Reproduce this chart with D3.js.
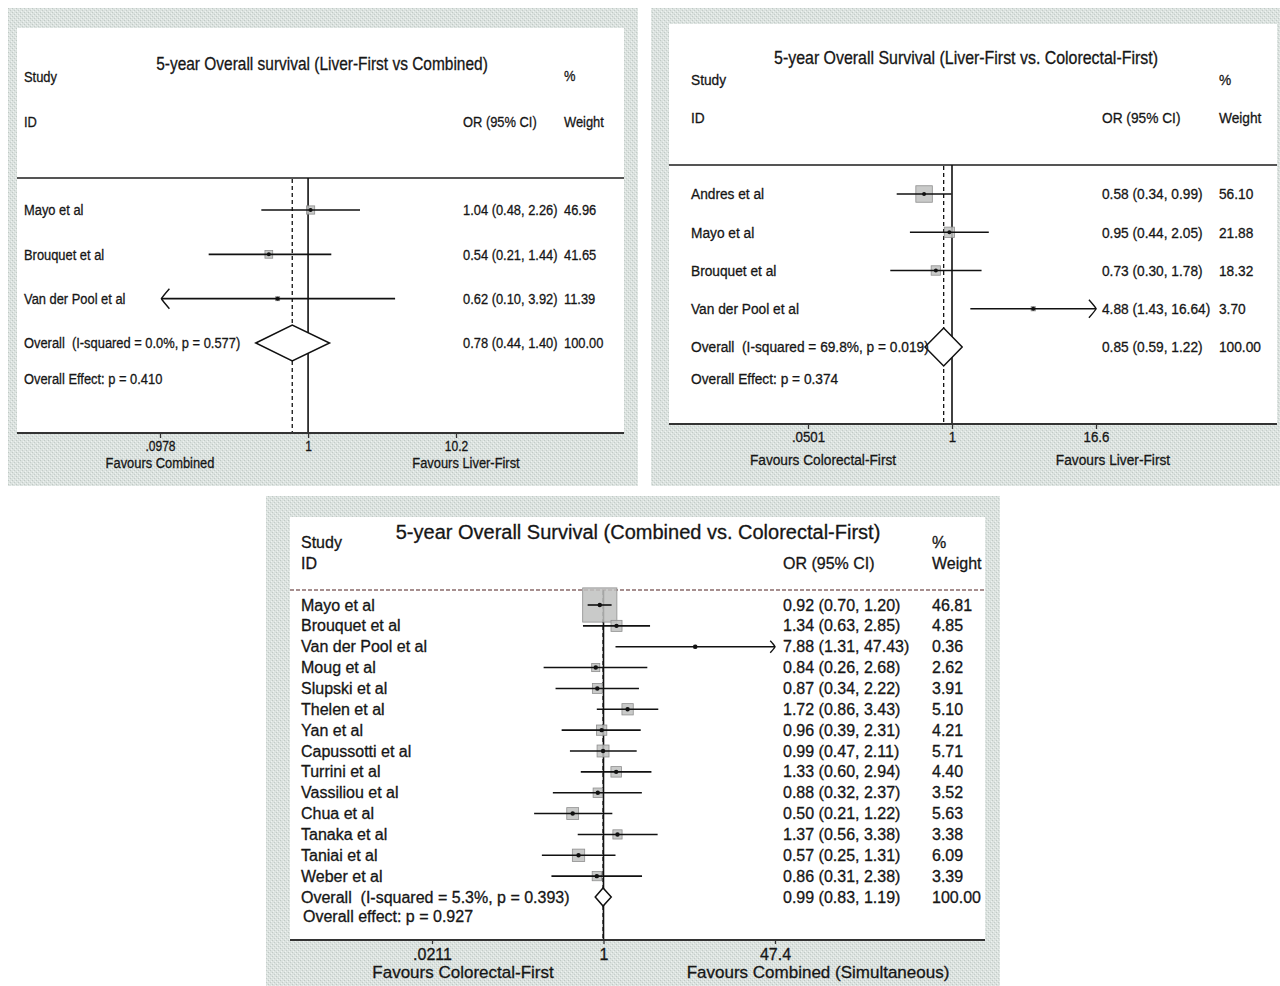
<!DOCTYPE html>
<html><head><meta charset="utf-8">
<script src="https://cdn.jsdelivr.net/npm/d3@7"></script>
<style>html,body{margin:0;padding:0;background:#fff}svg{display:block}text{white-space:pre}</style>
</head><body><svg id="c" width="1280" height="986"></svg>
<script>
// ---------- DATA ----------
const p1Title = "5-year Overall survival (Liver-First vs Combined)";
const p1Studies = ["Mayo et al", "Brouquet et al", "Van der Pool et al"];
const p1OR = [1.04, 0.54, 0.62];
const p1Lo = [0.48, 0.21, 0.10];
const p1Hi = [2.26, 1.44, 3.92];
const p1Weight = [46.96, 41.65, 11.39];
const p1Overall = [0.78, 0.44, 1.40];
const p1Het = "Overall  (I-squared = 0.0%, p = 0.577)";
const p1Effect = "Overall Effect: p = 0.410";
const p1TickValues = [0.0978, 1, 10.2];
const p1TickLabels = [".0978", "1", "10.2"];
const p1Favours = ["Favours Combined", "Favours Liver-First"];

const p2Title = "5-year Overall Survival (Liver-First vs. Colorectal-First)";
const p2Studies = ["Andres et al", "Mayo et al", "Brouquet et al", "Van der Pool et al"];
const p2OR = [0.58, 0.95, 0.73, 4.88];
const p2Lo = [0.34, 0.44, 0.30, 1.43];
const p2Hi = [0.99, 2.05, 1.78, 16.64];
const p2Weight = [56.10, 21.88, 18.32, 3.70];
const p2Overall = [0.85, 0.59, 1.22];
const p2Het = "Overall  (I-squared = 69.8%, p = 0.019)";
const p2Effect = "Overall Effect: p = 0.374";
const p2TickValues = [1 / 16.6, 1, 16.6];
const p2TickLabels = [".0501", "1", "16.6"];
const p2Favours = ["Favours Colorectal-First", "Favours Liver-First"];

const p3Title = "5-year Overall Survival (Combined vs. Colorectal-First)";
const p3Studies = ["Mayo et al", "Brouquet et al", "Van der Pool et al", "Moug et al", "Slupski et al",
  "Thelen et al", "Yan et al", "Capussotti et al", "Turrini et al", "Vassiliou et al", "Chua et al",
  "Tanaka et al", "Taniai et al", "Weber et al"];
const p3OR = [0.92, 1.34, 7.88, 0.84, 0.87, 1.72, 0.96, 0.99, 1.33, 0.88, 0.50, 1.37, 0.57, 0.86];
const p3Lo = [0.70, 0.63, 1.31, 0.26, 0.34, 0.86, 0.39, 0.47, 0.60, 0.32, 0.21, 0.56, 0.25, 0.31];
const p3Hi = [1.20, 2.85, 47.43, 2.68, 2.22, 3.43, 2.31, 2.11, 2.94, 2.37, 1.22, 3.38, 1.31, 2.38];
const p3Weight = [46.81, 4.85, 0.36, 2.62, 3.91, 5.10, 4.21, 5.71, 4.40, 3.52, 5.63, 3.38, 6.09, 3.39];
const p3Overall = [0.99, 0.83, 1.19];
const p3Het = "Overall  (I-squared = 5.3%, p = 0.393)";
const p3Effect = "Overall effect: p = 0.927";
const p3TickValues = [0.0211, 1, 47.4];
const p3TickLabels = [".0211", "1", "47.4"];
const p3Favours = ["Favours Colorectal-First", "Favours Combined (Simultaneous)"];

// ---------- DRAW ----------
const svg = d3.select("#c");
const defs = svg.append("defs");
const pat = defs.append("pattern").attr("id", "tex").attr("width", 4).attr("height", 4)
  .attr("patternUnits", "userSpaceOnUse");
pat.append("rect").attr("width", 4).attr("height", 4).attr("fill", "#dbe2df");
pat.append("rect").attr("x", 0).attr("y", 0).attr("width", 1).attr("height", 1).attr("fill", "#c0c9c5");
pat.append("rect").attr("x", 2).attr("y", 2).attr("width", 1).attr("height", 1).attr("fill", "#c4ccc9");
pat.append("rect").attr("x", 1).attr("y", 3).attr("width", 1).attr("height", 1).attr("fill", "#eef2f0");
pat.append("rect").attr("x", 3).attr("y", 1).attr("width", 1).attr("height", 1).attr("fill", "#eef2f0");

const FONT = "'Liberation Sans',Arial,sans-serif";
const fmt = d3.format(".2f");

function forest(cfg) {
  const g = svg.append("g");
  const L = cfg.L;
  const sx = L.sx || 1;
  g.append("rect").attr("x", L.outer[0]).attr("y", L.outer[1]).attr("width", L.outer[2] - L.outer[0])
    .attr("height", L.outer[3] - L.outer[1]).attr("fill", "url(#tex)");
  g.append("rect").attr("x", L.inner[0]).attr("y", L.inner[1]).attr("width", L.inner[2] - L.inner[0])
    .attr("height", L.axisY - L.inner[1]).attr("fill", "#fff");

  const x = d3.scaleLog().domain([cfg.ticks[0], cfg.ticks[2]]).range([L.x0, L.x1]);
  const rows = cfg.studies.concat(["__overall"]);
  const y = d3.scalePoint().domain(rows).range([L.yFirst, L.yOverall]);
  const txt = (s, tx, ty, size, anchor) => g.append("text")
    .attr("transform", `translate(${tx},${ty}) scale(${sx},1)`)
    .attr("dy", "0.35em").attr("font-family", FONT).attr("font-size", size)
    .attr("fill", "#161616").attr("stroke", "#161616").attr("stroke-width", 0.3)
    .attr("text-anchor", anchor || "start").text(s);

  // header
  txt(cfg.title, L.titleX, L.titleY, L.titleSize, "middle");
  txt("Study", L.labelX, L.studyY, L.fs);
  txt("ID", L.labelX, L.idY, L.fs);
  txt("%", L.wX, L.pctY, L.fs);
  txt("OR (95% CI)", L.orX, L.idY, L.fs);
  txt("Weight", L.wX, L.idY, L.fs);
  g.append("line").attr("x1", L.inner[0]).attr("x2", L.inner[2]).attr("y1", L.headY).attr("y2", L.headY)
    .attr("stroke", L.headColor).attr("stroke-width", L.headW).attr("stroke-dasharray", L.headDash || null);

  // null line & overall dashed line
  g.append("line").attr("x1", x(1)).attr("x2", x(1)).attr("y1", L.headY).attr("y2", L.axisY)
    .attr("stroke", "#111").attr("stroke-width", 1.6);
  g.append("line").attr("x1", x(cfg.overall[0])).attr("x2", x(cfg.overall[0])).attr("y1", L.headY + 1)
    .attr("y2", L.axisY).attr("stroke", "#111").attr("stroke-width", 1.3).attr("stroke-dasharray", "4,3");

  // study rows
  cfg.studies.forEach((s, i) => {
    const yy = y(s);
    const lo = cfg.lo[i], hi = cfg.hi[i], or = cfg.or[i];
    const s2 = L.boxK * Math.sqrt(cfg.weight[i]);
    g.append("rect").attr("x", x(or) - s2 / 2).attr("y", yy - s2 / 2).attr("width", s2).attr("height", s2)
      .attr("fill", "#bfc1c0").attr("stroke", "#8e8e8e").attr("stroke-width", 0.8).attr("fill-opacity", 0.85);
    g.append("line").attr("x1", x(lo)).attr("x2", x(hi)).attr("y1", yy).attr("y2", yy)
      .attr("stroke", "#111").attr("stroke-width", L.ciW);
    g.append("circle").attr("cx", x(or)).attr("cy", yy).attr("r", L.dotR).attr("fill", "#111");
    const ah = L.arrowH;
    if (lo <= cfg.ticks[0] * 1.05) {
      const t = x(lo);
      g.append("path").attr("d", `M${t + ah * 0.8},${yy - ah} Q${t + 1},${yy - 2} ${t},${yy} Q${t + 1},${yy + 2} ${t + ah * 0.8},${yy + ah}`)
        .attr("fill", "none").attr("stroke", "#111").attr("stroke-width", 1.4);
    }
    if (hi >= cfg.ticks[2] / 1.05) {
      const t = x(hi);
      g.append("path").attr("d", `M${t - ah * 0.8},${yy - ah} Q${t - 1},${yy - 2} ${t},${yy} Q${t - 1},${yy + 2} ${t - ah * 0.8},${yy + ah}`)
        .attr("fill", "none").attr("stroke", "#111").attr("stroke-width", 1.4);
    }
    txt(s, L.labelX, yy, L.fs);
    txt(`${fmt(or)} (${fmt(lo)}, ${fmt(hi)})`, L.orX, yy, L.fs);
    txt(fmt(cfg.weight[i]), L.wX, yy, L.fs);
  });

  // overall diamond
  const oy = y("__overall");
  const [o, ol, oh] = cfg.overall;
  g.append("path").attr("d", `M${x(ol)},${oy} L${x(o)},${oy - L.diaH} L${x(oh)},${oy} L${x(o)},${oy + L.diaH} Z`)
    .attr("fill", "#fff").attr("stroke", "#111").attr("stroke-width", 1.5);
  txt(cfg.het, L.labelX, oy, L.fs);
  txt(`${fmt(o)} (${fmt(ol)}, ${fmt(oh)})`, L.orX, oy, L.fs);
  txt(fmt(100), L.wX, oy, L.fs);
  txt(cfg.effect, L.labelX + (L.effDx || 0), L.effY, L.fs);

  // axis
  const ax = d3.axisBottom(x).tickValues(cfg.ticks).tickSize(L.tickLen).tickFormat((d, i) => cfg.tickLabels[i]);
  const axg = g.append("g").attr("transform", `translate(0,${L.axisY})`).call(ax);
  axg.select(".domain").remove();
  axg.selectAll(".tick line").attr("stroke", "#333").attr("stroke-width", 1.3);
  axg.selectAll(".tick text").attr("font-family", FONT).attr("font-size", L.fsTick).attr("fill", "#161616")
    .attr("stroke", "#161616").attr("stroke-width", 0.3)
    .attr("y", 0).attr("dy", "0.35em").attr("transform", `translate(0,${L.tickLabelDy}) scale(${sx},1)`);
  g.append("line").attr("x1", L.inner[0]).attr("x2", L.inner[2]).attr("y1", L.axisY).attr("y2", L.axisY)
    .attr("stroke", "#333").attr("stroke-width", 2);
  txt(cfg.favours[0], L.fav[0], L.favY, L.fsAxis, "middle");
  txt(cfg.favours[1], L.fav[1], L.favY, L.fsAxis, "middle");
}

forest({
  title: p1Title, studies: p1Studies, or: p1OR, lo: p1Lo, hi: p1Hi, weight: p1Weight, overall: p1Overall,
  het: p1Het, effect: p1Effect, ticks: p1TickValues, tickLabels: p1TickLabels, favours: p1Favours,
  L: { outer: [8, 8, 638, 486], inner: [17, 28, 624], axisY: 433, x0: 160, x1: 456, sx: 0.86,
    yFirst: 210, yOverall: 343, effY: 379, fs: 15, fsAxis: 15, fsTick: 14, titleSize: 18,
    titleX: 322, titleY: 64, labelX: 24, studyY: 77, idY: 122, pctY: 76, orX: 463, wX: 564,
    headY: 178, headColor: "#555", headW: 2, boxK: 1.2, ciW: 1.6, dotR: 2, arrowH: 10, diaH: 18,
    tickLen: 5, tickLabelDy: 13, fav: [160, 466], favY: 463 }
});

forest({
  title: p2Title, studies: p2Studies, or: p2OR, lo: p2Lo, hi: p2Hi, weight: p2Weight, overall: p2Overall,
  het: p2Het, effect: p2Effect, ticks: p2TickValues, tickLabels: p2TickLabels, favours: p2Favours,
  L: { outer: [651, 8, 1280, 486], inner: [669, 24, 1277], axisY: 424, x0: 808, x1: 1096, sx: 0.885,
    yFirst: 194, yOverall: 347, effY: 379, fs: 15.5, fsAxis: 15.5, fsTick: 15, titleSize: 18,
    titleX: 966, titleY: 58, labelX: 691, studyY: 80, idY: 118, pctY: 80, orX: 1102, wX: 1219,
    headY: 165, headColor: "#555", headW: 2, boxK: 2.2, ciW: 1.6, dotR: 2, arrowH: 9, diaH: 19,
    tickLen: 5, tickLabelDy: 13, fav: [823, 1113], favY: 460 }
});

forest({
  title: p3Title, studies: p3Studies, or: p3OR, lo: p3Lo, hi: p3Hi, weight: p3Weight, overall: p3Overall,
  het: p3Het, effect: p3Effect, ticks: p3TickValues, tickLabels: p3TickLabels, favours: p3Favours,
  L: { outer: [266, 496, 1000, 986], inner: [290, 517, 985], axisY: 940, x0: 432, x1: 775, sx: 1,
    yFirst: 605, yOverall: 897, effY: 916, effDx: 2, fs: 16, fsAxis: 17, fsTick: 16, titleSize: 20,
    titleX: 638, titleY: 532, labelX: 301, studyY: 542, idY: 563, pctY: 542, orX: 783, wX: 932,
    headY: 590, headColor: "#8a6b6b", headW: 1.3, headDash: "4,2", boxK: 5, ciW: 1.6, dotR: 2.2,
    arrowH: 6, diaH: 9, tickLen: 4, tickLabelDy: 14, fav: [463, 818], favY: 972 }
});
</script></body></html>
